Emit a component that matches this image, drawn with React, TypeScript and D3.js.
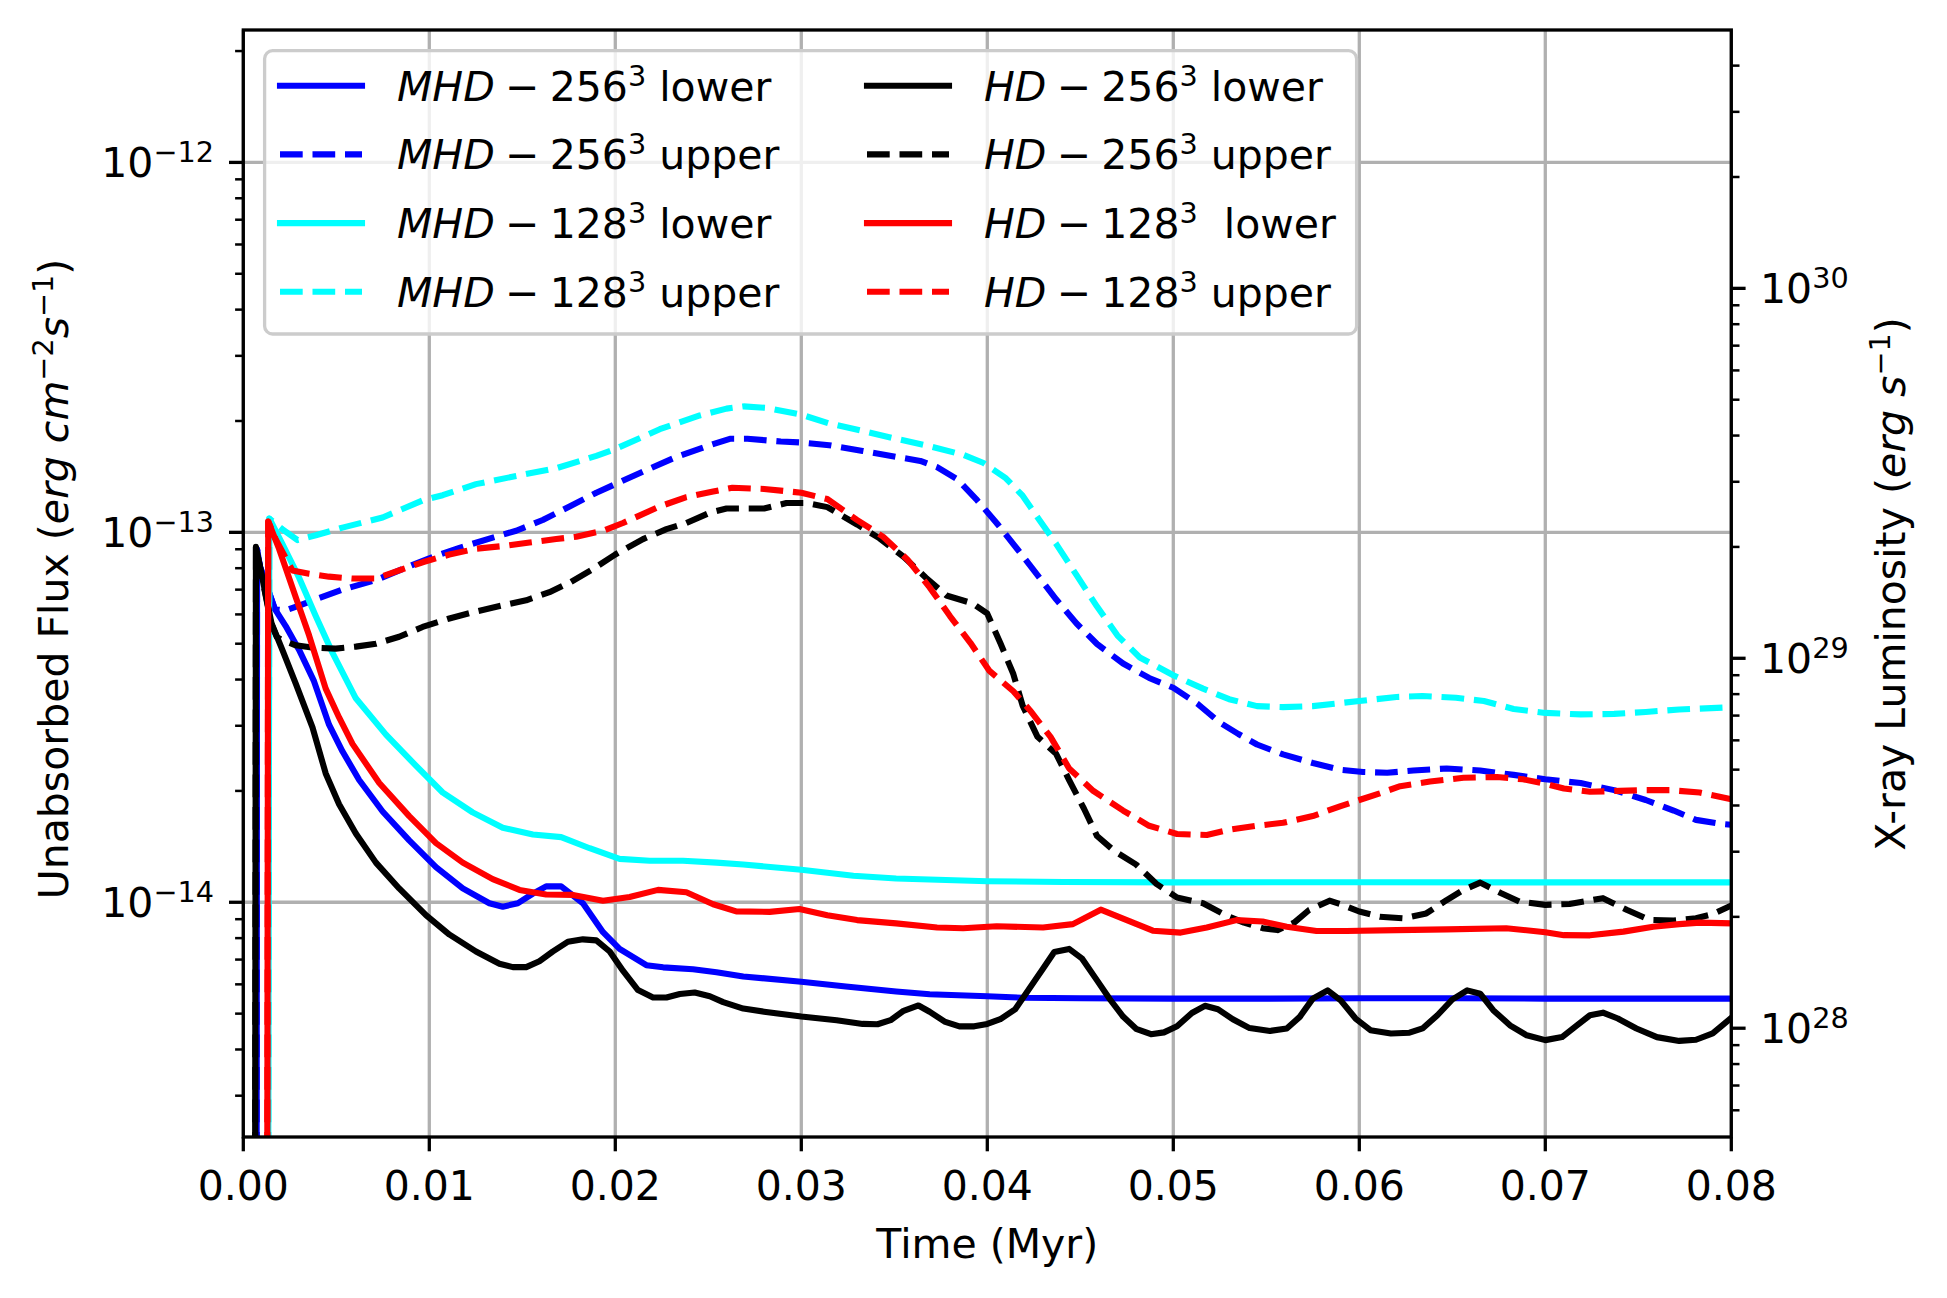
import * as d3 from "d3";

// flux values below are in units of 1e-14 erg cm^-2 s^-1
const FLUX_UNIT = 1e-14;
// conversion used by the right-hand luminosity axis
const LUM_PER_FLUX = 2.19e42;

const timeDomain: [number, number] = [0, 0.08];
const timeTicks = [0, 0.01, 0.02, 0.03, 0.04, 0.05, 0.06, 0.07, 0.08];
const fluxDomain: [number, number] = [2.32e-15, 2.28e-12];

// [time (Myr), flux]
const mhd256Lower: [number, number][] = [
  [0.0007, 0.01], [0.00074, 9.0], [0.0009, 8.07], [0.0017, 6.2], [0.00228, 5.58],
  [0.003, 4.81], [0.0038, 3.96], [0.00461, 3.02], [0.00533, 2.56], [0.00623, 2.14],
  [0.00749, 1.76], [0.00892, 1.47], [0.01036, 1.245], [0.0118, 1.09], [0.01323, 0.994],
  [0.01395, 0.973], [0.01476, 0.994], [0.01557, 1.055], [0.01628, 1.104], [0.01709, 1.104],
  [0.01826, 0.994], [0.01934, 0.83], [0.02023, 0.748], [0.02167, 0.676], [0.02257, 0.667],
  [0.02418, 0.659], [0.02544, 0.647], [0.02688, 0.63], [0.03, 0.61], [0.0324, 0.592],
  [0.0351, 0.574], [0.0369, 0.564], [0.04, 0.557], [0.0419, 0.552], [0.045, 0.55],
  [0.05, 0.549], [0.055, 0.549], [0.06, 0.55], [0.065, 0.55], [0.07, 0.549],
  [0.075, 0.549], [0.08, 0.549],
];

const mhd256Upper: [number, number][] = [
  [0.0007, 0.01], [0.00074, 9.0], [0.0009, 8.07], [0.0017, 6.2], [0.00228, 6.15],
  [0.003, 6.34], [0.0039, 6.59], [0.00533, 7.0], [0.00713, 7.43], [0.00856, 7.96],
  [0.01, 8.51], [0.01162, 9.08], [0.01341, 9.68], [0.01467, 10.1], [0.0161, 10.8],
  [0.01754, 11.75], [0.01898, 12.8], [0.02, 13.5], [0.02149, 14.6], [0.02329, 16.0],
  [0.02508, 17.2], [0.02616, 17.9], [0.0271, 17.9], [0.0289, 17.6], [0.03, 17.5],
  [0.0315, 17.2], [0.0333, 16.6], [0.0351, 16.0], [0.0364, 15.6], [0.0373, 15.0],
  [0.0384, 13.9], [0.0394, 12.3], [0.0405, 10.6], [0.0416, 9.03], [0.0427, 7.66],
  [0.0437, 6.59], [0.0448, 5.67], [0.0459, 4.99], [0.0473, 4.42], [0.0487, 4.04],
  [0.05, 3.8], [0.0513, 3.44], [0.0525, 3.06], [0.0535, 2.85], [0.0545, 2.67],
  [0.0559, 2.51], [0.0575, 2.38], [0.059, 2.28], [0.0602, 2.25], [0.0615, 2.24],
  [0.0629, 2.27], [0.0647, 2.3], [0.0665, 2.27], [0.0683, 2.21], [0.07, 2.15],
  [0.0719, 2.1], [0.0737, 2.01], [0.0754, 1.89], [0.0769, 1.77], [0.0781, 1.67],
  [0.0794, 1.63], [0.08, 1.62],
];

const mhd128Lower: [number, number][] = [
  [0.0013, 0.01], [0.0014, 10.9], [0.0021, 9.31], [0.003, 7.54], [0.0039, 5.93],
  [0.00479, 4.73], [0.00605, 3.56], [0.00767, 2.84], [0.00928, 2.34], [0.01072, 1.98],
  [0.01233, 1.75], [0.01395, 1.59], [0.01557, 1.524], [0.01709, 1.5], [0.01862, 1.4],
  [0.02023, 1.31], [0.02185, 1.295], [0.02364, 1.295], [0.02544, 1.28], [0.02688, 1.265],
  [0.03, 1.224], [0.0328, 1.18], [0.0351, 1.159], [0.04, 1.14], [0.0441, 1.135],
  [0.05, 1.132], [0.06, 1.133], [0.07, 1.132], [0.08, 1.132],
];

const mhd128Upper: [number, number][] = [
  [0.0013, 0.01], [0.0014, 10.9], [0.0021, 10.2], [0.00291, 9.53], [0.0039, 9.82],
  [0.00533, 10.3], [0.00749, 10.97], [0.00964, 12.2], [0.01072, 12.6], [0.01251, 13.5],
  [0.01467, 14.2], [0.01682, 14.9], [0.01898, 16.1], [0.02, 16.8], [0.02239, 19.0],
  [0.02454, 20.7], [0.02598, 21.6], [0.0269, 21.9], [0.0281, 21.7], [0.03, 20.8],
  [0.0315, 19.7], [0.0333, 18.8], [0.0351, 17.9], [0.0369, 17.1], [0.0387, 16.2],
  [0.0398, 15.4], [0.041, 14.0], [0.0419, 12.56], [0.0428, 10.8], [0.0437, 9.31],
  [0.0448, 7.66], [0.0459, 6.3], [0.047, 5.26], [0.0482, 4.59], [0.05, 4.11],
  [0.0516, 3.78], [0.053, 3.54], [0.0545, 3.39], [0.0559, 3.37], [0.0575, 3.39],
  [0.06, 3.5], [0.062, 3.59], [0.0634, 3.61], [0.0652, 3.57], [0.0667, 3.5],
  [0.0683, 3.33], [0.07, 3.25], [0.0719, 3.22], [0.0737, 3.23], [0.0754, 3.27],
  [0.0772, 3.32], [0.0796, 3.36], [0.08, 3.37],
];

const hd256Lower: [number, number][] = [
  [0.0006, 0.01], [0.00068, 9.14], [0.00152, 5.67], [0.0021, 4.81], [0.00282, 3.9],
  [0.00372, 2.97], [0.00443, 2.23], [0.00515, 1.84], [0.00605, 1.535], [0.00713, 1.28],
  [0.00838, 1.09], [0.00982, 0.923], [0.01108, 0.818], [0.01251, 0.736], [0.01377, 0.682],
  [0.01449, 0.668], [0.01521, 0.668], [0.01592, 0.693], [0.01664, 0.736], [0.01745, 0.782],
  [0.01826, 0.794], [0.01898, 0.789], [0.0197, 0.736], [0.02041, 0.653], [0.02122, 0.579],
  [0.02203, 0.553], [0.02275, 0.553], [0.02347, 0.565], [0.02427, 0.57], [0.02508, 0.557],
  [0.0258, 0.537], [0.02688, 0.516], [0.028, 0.506], [0.03, 0.491], [0.0319, 0.48],
  [0.0333, 0.469], [0.0341, 0.468], [0.0348, 0.48], [0.0355, 0.509], [0.0363, 0.526],
  [0.0369, 0.506], [0.0377, 0.476], [0.0385, 0.462], [0.0393, 0.462], [0.04, 0.469],
  [0.0407, 0.483], [0.0415, 0.514], [0.0423, 0.588], [0.043, 0.662], [0.0436, 0.734],
  [0.0444, 0.748], [0.0451, 0.704], [0.0459, 0.615], [0.0466, 0.546], [0.0473, 0.491],
  [0.048, 0.455], [0.0488, 0.44], [0.0495, 0.445], [0.0502, 0.462], [0.051, 0.502],
  [0.0517, 0.525], [0.0524, 0.514], [0.0532, 0.483], [0.0541, 0.457], [0.0552, 0.449],
  [0.0561, 0.456], [0.0568, 0.49], [0.0575, 0.549], [0.0583, 0.578], [0.059, 0.543],
  [0.0598, 0.485], [0.0606, 0.451], [0.0617, 0.442], [0.0627, 0.444], [0.0634, 0.456],
  [0.0642, 0.495], [0.065, 0.546], [0.0658, 0.578], [0.0665, 0.566], [0.0672, 0.511],
  [0.0681, 0.465], [0.069, 0.437], [0.07, 0.424], [0.0709, 0.432], [0.0717, 0.465],
  [0.0724, 0.495], [0.0731, 0.503], [0.0739, 0.485], [0.0749, 0.456], [0.076, 0.432],
  [0.0772, 0.422], [0.0781, 0.425], [0.079, 0.442], [0.08, 0.487],
];

const hd256Upper: [number, number][] = [
  [0.0006, 0.01], [0.00068, 9.14], [0.0015, 5.67], [0.0018, 5.21], [0.0021, 5.11],
  [0.00282, 4.95], [0.00372, 4.88], [0.00497, 4.85], [0.00605, 4.91], [0.00713, 5.0],
  [0.00838, 5.22], [0.00964, 5.55], [0.01108, 5.85], [0.01251, 6.11], [0.01395, 6.35],
  [0.01521, 6.55], [0.01646, 6.89], [0.01754, 7.31], [0.0188, 7.96], [0.02, 8.71],
  [0.02149, 9.59], [0.02275, 10.2], [0.02382, 10.6], [0.02508, 11.3], [0.02598, 11.6],
  [0.028, 11.6], [0.0292, 12.0], [0.0303, 12.0], [0.0314, 11.7], [0.033, 10.5],
  [0.0342, 9.64], [0.0355, 8.59], [0.0367, 7.54], [0.0378, 6.75], [0.0392, 6.43],
  [0.04, 6.03], [0.0407, 5.02], [0.0414, 4.14], [0.0419, 3.4], [0.0427, 2.8],
  [0.0437, 2.52], [0.0444, 2.14], [0.0452, 1.79], [0.0459, 1.51], [0.0468, 1.38],
  [0.048, 1.265], [0.0491, 1.12], [0.0502, 1.03], [0.0516, 0.994], [0.0528, 0.923],
  [0.0538, 0.881], [0.0548, 0.851], [0.0556, 0.841], [0.0565, 0.881], [0.0573, 0.953],
  [0.0584, 1.01], [0.0591, 0.984], [0.06, 0.944], [0.0611, 0.914], [0.0624, 0.905],
  [0.0636, 0.933], [0.0647, 1.014], [0.0656, 1.08], [0.0665, 1.13], [0.0676, 1.06],
  [0.0686, 1.005], [0.07, 0.984], [0.0713, 0.989], [0.0731, 1.026], [0.0744, 0.953],
  [0.0756, 0.896], [0.0769, 0.892], [0.0781, 0.905], [0.079, 0.929], [0.08, 0.98],
];

const hd128Lower: [number, number][] = [
  [0.00125, 0.01], [0.00134, 10.7], [0.00192, 9.03], [0.00282, 6.68], [0.00354, 5.26],
  [0.00443, 3.78], [0.00515, 3.16], [0.00587, 2.68], [0.00731, 2.1], [0.00892, 1.71],
  [0.01036, 1.445], [0.0118, 1.28], [0.01341, 1.155], [0.01485, 1.08], [0.01628, 1.05],
  [0.01772, 1.047], [0.01934, 1.01], [0.02077, 1.033], [0.0223, 1.08], [0.02382, 1.064],
  [0.02526, 0.988], [0.0265, 0.945], [0.0283, 0.942], [0.0299, 0.959], [0.0314, 0.923],
  [0.033, 0.895], [0.0351, 0.877], [0.0373, 0.855], [0.0387, 0.851], [0.0405, 0.861],
  [0.043, 0.855], [0.0446, 0.873], [0.0461, 0.955], [0.0475, 0.895], [0.0489, 0.838],
  [0.0504, 0.828], [0.0518, 0.855], [0.0534, 0.895], [0.0548, 0.887], [0.0561, 0.859],
  [0.0577, 0.836], [0.0593, 0.836], [0.062, 0.841], [0.0647, 0.845], [0.0679, 0.851],
  [0.07, 0.83], [0.071, 0.815], [0.0724, 0.814], [0.0742, 0.833], [0.0758, 0.859],
  [0.0772, 0.873], [0.0783, 0.881], [0.08, 0.877],
];

const hd128Upper: [number, number][] = [
  [0.00125, 0.01], [0.00134, 10.7], [0.00174, 9.59], [0.00264, 7.89], [0.00354, 7.73],
  [0.00461, 7.59], [0.00587, 7.5], [0.00713, 7.5], [0.00838, 7.89], [0.00964, 8.3],
  [0.01108, 8.71], [0.01251, 9.03], [0.01395, 9.18], [0.01539, 9.39], [0.01682, 9.59],
  [0.0179, 9.73], [0.01934, 10.1], [0.02041, 10.6], [0.02239, 11.75], [0.02382, 12.45],
  [0.02526, 12.9], [0.0263, 13.2], [0.028, 13.1], [0.03, 12.8], [0.0314, 12.3],
  [0.033, 10.8], [0.0344, 9.73], [0.0357, 8.45], [0.0369, 7.1], [0.038, 5.93],
  [0.0391, 5.02], [0.0401, 4.23], [0.0414, 3.72], [0.0423, 3.3], [0.0434, 2.8],
  [0.0444, 2.3], [0.0457, 2.0], [0.0473, 1.77], [0.0487, 1.61], [0.0502, 1.53],
  [0.0518, 1.52], [0.053, 1.57], [0.0545, 1.61], [0.0559, 1.64], [0.0575, 1.71],
  [0.059, 1.82], [0.06, 1.89], [0.0611, 1.97], [0.0622, 2.06], [0.0638, 2.12],
  [0.0656, 2.17], [0.0674, 2.18], [0.0688, 2.15], [0.07, 2.09], [0.071, 2.03],
  [0.0724, 1.99], [0.074, 2.0], [0.0754, 2.01], [0.0767, 2.01], [0.0783, 1.98],
  [0.08, 1.9],
];

const series = [
  { model: "MHD", res: "256", kind: " lower", color: "#0000ff", dashed: false, data: mhd256Lower },
  { model: "MHD", res: "256", kind: " upper", color: "#0000ff", dashed: true, data: mhd256Upper },
  { model: "MHD", res: "128", kind: " lower", color: "#00ffff", dashed: false, data: mhd128Lower },
  { model: "MHD", res: "128", kind: " upper", color: "#00ffff", dashed: true, data: mhd128Upper },
  { model: "HD", res: "256", kind: " lower", color: "#000000", dashed: false, data: hd256Lower },
  { model: "HD", res: "256", kind: " upper", color: "#000000", dashed: true, data: hd256Upper },
  { model: "HD", res: "128", kind: "  lower", color: "#ff0000", dashed: false, data: hd128Lower },
  { model: "HD", res: "128", kind: " upper", color: "#ff0000", dashed: true, data: hd128Upper },
];

const W = 1947;
const H = 1298;
const plot = { left: 243.3, right: 1731.3, top: 30, bottom: 1137 };
const FONT = "'DejaVu Sans', sans-serif";
const FS = 41;
const SUP = 28.7;
const LW = 6.1;
const DASH = "22.7 9.8";

const isDecade = (v: number) => Math.abs(Math.log10(v) - Math.round(Math.log10(v))) < 1e-6;
const expText = (v: number) => String(Math.round(Math.log10(v))).replace("-", "\u2212");

export default function App() {
  const x = d3.scaleLinear().domain(timeDomain).range([plot.left, plot.right]);
  const y = d3.scaleLog().domain(fluxDomain).range([plot.bottom, plot.top]);
  const yR = d3
    .scaleLog()
    .domain([fluxDomain[0] * LUM_PER_FLUX, fluxDomain[1] * LUM_PER_FLUX])
    .range([plot.bottom, plot.top]);

  const line = d3
    .line<[number, number]>()
    .x((d) => x(d[0]))
    .y((d) => y(d[1] * FLUX_UNIT));

  const yTicks = y.ticks();
  const yRTicks = yR.ticks();
  const fmt = d3.format(".2f");

  const legendRowY = (i: number) => 85.7 + i * 68.7;
  const legendCols = [
    { handle: 280, text: 397 },
    { handle: 867, text: 984 },
  ];

  return (
    <svg
      width={W}
      height={H}
      style={{ position: "absolute", left: 0, top: 0, background: "#fff" }}
      fontFamily={FONT}
    >
      <defs>
        <clipPath id="plot-clip">
          <rect x={plot.left} y={plot.top} width={plot.right - plot.left} height={plot.bottom - plot.top} />
        </clipPath>
      </defs>
      <rect x={0} y={0} width={W} height={H} fill="#fff" />

      {/* grid */}
      <g stroke="#b0b0b0" strokeWidth={3.3}>
        {timeTicks.map((t) => (
          <line key={"gx" + t} x1={x(t)} x2={x(t)} y1={plot.top} y2={plot.bottom} />
        ))}
        {yTicks.filter(isDecade).map((v) => (
          <line key={"gy" + v} x1={plot.left} x2={plot.right} y1={y(v)} y2={y(v)} />
        ))}
      </g>

      {/* data */}
      <g clipPath="url(#plot-clip)" fill="none" strokeLinejoin="round">
        {series.map((s, i) => (
          <path
            key={i}
            d={line(s.data) || ""}
            stroke={s.color}
            strokeWidth={LW}
            strokeDasharray={s.dashed ? DASH : undefined}
            strokeLinecap={s.dashed ? "butt" : "square"}
          />
        ))}
      </g>

      {/* spines */}
      <rect
        x={plot.left}
        y={plot.top}
        width={plot.right - plot.left}
        height={plot.bottom - plot.top}
        fill="none"
        stroke="#000"
        strokeWidth={3.3}
      />

      {/* x axis */}
      {timeTicks.map((t) => (
        <g key={"xt" + t}>
          <line x1={x(t)} x2={x(t)} y1={plot.bottom} y2={plot.bottom + 14.3} stroke="#000" strokeWidth={3.3} />
          <text x={x(t)} y={1200} fontSize={FS} textAnchor="middle">
            {fmt(t)}
          </text>
        </g>
      ))}
      <text x={(plot.left + plot.right) / 2} y={1258} fontSize={FS} textAnchor="middle">
        Time (Myr)
      </text>

      {/* left axis */}
      {yTicks.map((v) => {
        const major = isDecade(v);
        return (
          <g key={"yt" + v}>
            <line
              x1={plot.left - (major ? 14.3 : 8.2)}
              x2={plot.left}
              y1={y(v)}
              y2={y(v)}
              stroke="#000"
              strokeWidth={major ? 3.3 : 2.5}
            />
            {major && (
              <text x={214} y={y(v) + 15} fontSize={FS} textAnchor="end">
                10
                <tspan dy={-15} fontSize={SUP}>
                  {expText(v)}
                </tspan>
              </text>
            )}
          </g>
        );
      })}
      <text
        transform={`translate(68,579) rotate(-90)`}
        fontSize={FS}
        textAnchor="middle"
        style={{ whiteSpace: "pre" }}
      >
        Unabsorbed Flux (<tspan fontStyle="italic">erg</tspan> <tspan fontStyle="italic">cm</tspan>
        <tspan dy={-15} fontSize={SUP}>
          {"\u22122"}
        </tspan>
        <tspan dy={15} fontStyle="italic">
          s
        </tspan>
        <tspan dy={-15} fontSize={SUP}>
          {"\u22121"}
        </tspan>
        <tspan dy={15}>)</tspan>
      </text>

      {/* right axis */}
      {yRTicks.map((v) => {
        const major = isDecade(v);
        return (
          <g key={"yr" + v}>
            <line
              x1={plot.right}
              x2={plot.right + (major ? 14.3 : 8.2)}
              y1={yR(v)}
              y2={yR(v)}
              stroke="#000"
              strokeWidth={major ? 3.3 : 2.5}
            />
            {major && (
              <text x={1760} y={yR(v) + 15} fontSize={FS}>
                10
                <tspan dy={-15} fontSize={SUP}>
                  {expText(v)}
                </tspan>
              </text>
            )}
          </g>
        );
      })}
      <text
        transform={`translate(1905,584) rotate(-90)`}
        fontSize={FS}
        textAnchor="middle"
        style={{ whiteSpace: "pre" }}
      >
        X-ray Luminosity (<tspan fontStyle="italic">erg</tspan> <tspan fontStyle="italic">s</tspan>
        <tspan dy={-15} fontSize={SUP}>
          {"\u22121"}
        </tspan>
        <tspan dy={15}>)</tspan>
      </text>

      {/* legend */}
      <rect
        x={264.6}
        y={50.7}
        width={1092}
        height={283.3}
        rx={8}
        fill="#fff"
        fillOpacity={0.8}
        stroke="#cccccc"
        strokeWidth={3.3}
      />
      {series.map((s, i) => {
        const col = legendCols[Math.floor(i / 4)];
        const cy = legendRowY(i % 4);
        return (
          <g key={"lg" + i}>
            <line
              x1={col.handle}
              x2={col.handle + 82}
              y1={cy}
              y2={cy}
              stroke={s.color}
              strokeWidth={LW}
              strokeDasharray={s.dashed ? DASH : undefined}
              strokeLinecap={s.dashed ? "butt" : "square"}
            />
            <text x={col.text} y={cy + 15} fontSize={FS} style={{ whiteSpace: "pre" }}>
              <tspan fontStyle="italic">{s.model}</tspan>
              <tspan>{"\u2005\u2212\u2005" + s.res}</tspan>
              <tspan dy={-15} fontSize={SUP}>
                3
              </tspan>
              <tspan dy={15}>{s.kind}</tspan>
            </text>
          </g>
        );
      })}
    </svg>
  );
}
